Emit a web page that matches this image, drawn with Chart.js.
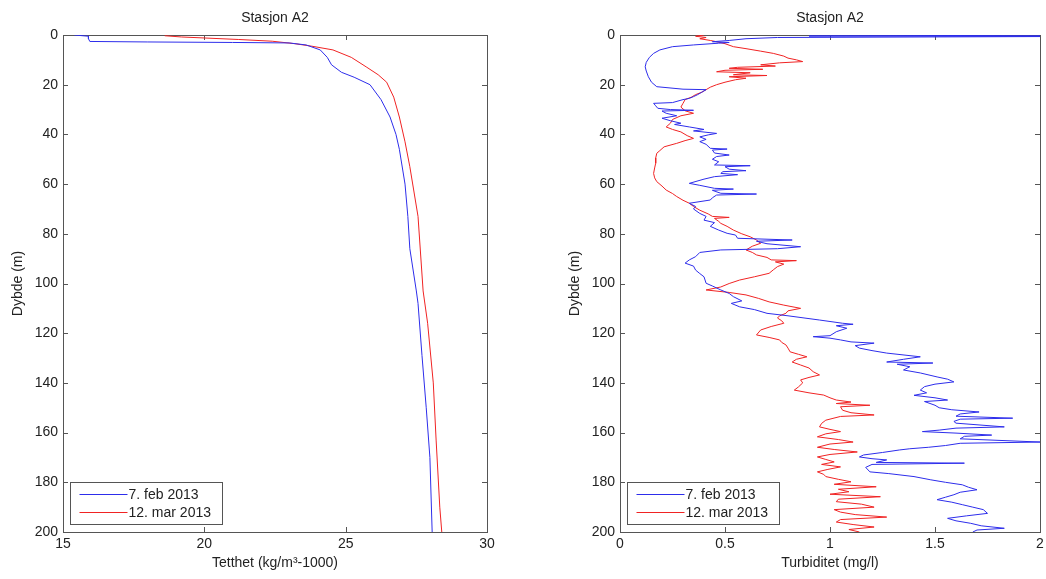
<!DOCTYPE html>
<html>
<head>
<meta charset="utf-8">
<script src="https://cdn.jsdelivr.net/npm/chart.js@4"></script>
<style>
  body { margin: 0; background: #fff; }
  canvas { position: absolute; top: 0; }
  #left { left: 0; }
  #right { left: 520px; }
</style>
</head>
<body>
<canvas id="left" width="520" height="579"></canvas>
<canvas id="right" width="526" height="579"></canvas>
<script>
/* global Chart */

var seriesNames = ['7. feb 2013', '12. mar 2013']
var blue = 'rgb(45,45,235)'
var red = 'rgb(240,35,35)'

// density profiles (kg/m^3-1000) vs depth (m)
var densFebDepth = [0, 0.5, 1.5, 2.6, 2.8, 3.0, 3.2, 4, 6, 9, 12, 15, 17, 20, 26, 33, 40, 46, 60, 73, 86, 103, 108, 129, 150, 170, 200]
var densFebVal = [15.4, 15.9, 15.9, 15.95, 18.0, 21.0, 23.0, 23.6, 24.1, 24.35, 24.5, 24.85, 25.3, 25.86, 26.25, 26.57, 26.78, 26.9, 27.1, 27.2, 27.27, 27.5, 27.56, 27.7, 27.85, 27.98, 28.06]
var densMarDepth = [0.3, 0.8, 1.2, 1.8, 2.5, 3.5, 4.5, 6, 9, 13, 16, 19, 25, 33, 43, 53, 73, 103, 116, 140, 163, 190, 200]
var densMarVal = [18.6, 19.2, 20.0, 21.2, 22.4, 23.2, 23.8, 24.55, 25.2, 25.75, 26.15, 26.45, 26.7, 26.9, 27.1, 27.27, 27.56, 27.74, 27.9, 28.1, 28.2, 28.33, 28.4]

// turbidity profiles (mg/l) vs depth (m)
var turbFebDepth = [0, 0.4, 0.6, 1.0, 1.5, 2.2, 2.7, 3.0, 3.3, 4.0, 4.7, 6, 7.4, 9, 11, 12.8, 14.5, 16.8, 19, 20.8, 21.8, 22, 23, 24, 24.8, 25.5, 26, 27.2, 27.5, 28.5, 29.5, 30, 30.3, 30.6, 31.5, 32.5, 33.5, 34.5, 35.5, 36, 37, 38, 38.6, 39.6, 40.2, 41, 42, 42.9, 44, 45.6, 45.9, 46.3, 47.5, 48.3, 48.9, 50, 51, 52.3, 52.6, 53, 54, 54.6, 55, 55.7, 56.2, 57, 58, 59.7, 60.5, 61.7, 62, 62.5, 63.7, 64, 64.4, 65.5, 66.4, 67.7, 69, 70, 71.8, 73, 74.5, 75.5, 77, 78.5, 79.8, 80.5, 81.8, 82.5, 83, 84, 85.2, 86, 86.5, 87.5, 89.2, 90.5, 91.8, 93, 94.6, 96, 97.3, 99.9, 101, 102.6, 104, 105.3, 107, 108, 109.4, 110.5, 112, 113, 114.7, 116, 116.4, 117, 118, 119.4, 121, 121.4, 122, 122.7, 123.5, 124, 125, 126, 127, 128, 129.5, 130.5, 131.6, 132, 132.5, 133.5, 134.8, 136, 137.6, 138.5, 139.6, 140.5, 141.5, 142.9, 144, 145, 146, 146.9, 147.5, 149, 150, 150.8, 151.7, 152.5, 153.4, 154.2, 154.6, 155.5, 156.2, 157.7, 158.2, 159, 159.6, 160.2, 161, 161.5, 162.5, 163.8, 164.3, 165.2, 165.9, 166.5, 167, 168, 169, 169.8, 170.5, 171, 172, 172.3, 172.8, 174, 175.8, 176.5, 177.7, 179, 180, 181, 182, 183, 184, 185, 186, 187, 188, 189, 190, 191, 192.5, 193.5, 194.5, 195.5, 196.5, 197.5, 198.5, 199.2, 200]
var turbFebVal = [2.3, 0.9, 2.1, 0.75, 0.6, 0.52, 0.44, 0.52, 0.47, 0.35, 0.25, 0.19, 0.16, 0.14, 0.125, 0.12, 0.125, 0.135, 0.15, 0.175, 0.30, 0.41, 0.39, 0.37, 0.35, 0.33, 0.30, 0.25, 0.16, 0.17, 0.18, 0.24, 0.35, 0.2, 0.22, 0.27, 0.2, 0.24, 0.29, 0.26, 0.33, 0.4, 0.35, 0.46, 0.42, 0.38, 0.41, 0.38, 0.41, 0.43, 0.51, 0.44, 0.45, 0.52, 0.46, 0.44, 0.47, 0.45, 0.62, 0.5, 0.52, 0.60, 0.49, 0.48, 0.56, 0.45, 0.4, 0.33, 0.38, 0.45, 0.54, 0.44, 0.48, 0.65, 0.46, 0.44, 0.43, 0.33, 0.36, 0.35, 0.38, 0.41, 0.4, 0.45, 0.43, 0.47, 0.51, 0.55, 0.56, 0.82, 0.65, 0.7, 0.86, 0.75, 0.48, 0.38, 0.36, 0.33, 0.31, 0.35, 0.36, 0.38, 0.40, 0.41, 0.44, 0.48, 0.52, 0.54, 0.58, 0.53, 0.57, 0.64, 0.70, 0.8, 0.95, 1.06, 1.11, 1.03, 1.08, 1.03, 1.0, 0.92, 1.0, 1.05, 1.1, 1.21, 1.12, 1.14, 1.2, 1.27, 1.43, 1.35, 1.27, 1.49, 1.32, 1.38, 1.35, 1.43, 1.51, 1.56, 1.59, 1.5, 1.45, 1.43, 1.46, 1.40, 1.5, 1.56, 1.45, 1.5, 1.52, 1.58, 1.71, 1.62, 1.60, 1.87, 1.62, 1.59, 1.60, 1.83, 1.6, 1.52, 1.44, 1.6, 1.77, 1.64, 1.62, 2.0, 1.62, 1.55, 1.47, 1.38, 1.33, 1.25, 1.16, 1.14, 1.2, 1.27, 1.22, 1.64, 1.2, 1.17, 1.19, 1.28, 1.40, 1.48, 1.55, 1.63, 1.66, 1.70, 1.62, 1.59, 1.55, 1.51, 1.58, 1.63, 1.68, 1.73, 1.75, 1.65, 1.56, 1.6, 1.67, 1.72, 1.83, 1.70, 1.68]
var turbMarDepth = [0, 0.5, 1, 1.5, 2.2, 2.7, 3.5, 4.7, 5.5, 6.5, 7.4, 8.5, 9.3, 10, 10.7, 11.2, 12, 12.5, 13, 13.4, 13.8, 14.2, 14.8, 15.2, 16, 16.3, 16.8, 17.4, 18, 19, 20, 21, 22, 23, 24, 25, 26, 27.5, 29, 30.5, 31.5, 32.5, 34, 35.5, 37, 38, 39, 40.5, 41.6, 42.5, 43.6, 45, 46.5, 47.6, 49.5, 51.6, 53.5, 55.7, 57.5, 59, 60.8, 62.4, 63.8, 65, 66.5, 67.7, 69, 70.5, 72, 73, 73.4, 73.8, 75, 75.8, 77, 78.5, 80, 81.2, 82.5, 83.8, 85, 86.5, 87.5, 88.5, 89.5, 90.5, 90.8, 91.3, 92.2, 93.2, 94.5, 95.9, 97.3, 98.6, 100, 101.4, 102.6, 103.6, 104.6, 106, 107.4, 108.7, 110, 111, 112, 113, 113.9, 115, 116, 117.3, 118.7, 120.7, 121.7, 122.7, 123.7, 124.7, 126, 127.5, 128.5, 129.5, 130.5, 131.6, 132.8, 134, 135.5, 136.8, 137.8, 138.8, 140, 141.6, 142.9, 144, 144.9, 146, 146.9, 147.7, 148.3, 149, 149.6, 151, 152, 152.9, 153.5, 155, 156.3, 157.7, 158.7, 159.6, 160.5, 161.7, 162.8, 163.8, 164.6, 165.9, 166.8, 167.8, 168.8, 169.8, 170.8, 171.8, 172.8, 173.8, 174.8, 175.8, 176.8, 177.7, 178.8, 179.8, 180.8, 181.8, 182.8, 183.8, 184.8, 185.8, 186.8, 187.8, 188.8, 190, 191, 192, 193, 194, 195, 196, 197, 198, 199, 200]
var turbMarVal = [0.40, 0.36, 0.41, 0.38, 0.43, 0.46, 0.50, 0.54, 0.6, 0.67, 0.73, 0.78, 0.8, 0.84, 0.87, 0.76, 0.67, 0.74, 0.56, 0.52, 0.68, 0.5, 0.46, 0.62, 0.54, 0.70, 0.52, 0.6, 0.55, 0.50, 0.46, 0.43, 0.41, 0.39, 0.36, 0.34, 0.31, 0.30, 0.29, 0.31, 0.35, 0.29, 0.25, 0.24, 0.22, 0.25, 0.29, 0.32, 0.35, 0.31, 0.27, 0.21, 0.19, 0.175, 0.17, 0.17, 0.165, 0.16, 0.165, 0.175, 0.2, 0.22, 0.25, 0.27, 0.3, 0.33, 0.35, 0.38, 0.42, 0.44, 0.52, 0.45, 0.47, 0.48, 0.51, 0.54, 0.58, 0.62, 0.65, 0.67, 0.63, 0.60, 0.63, 0.65, 0.70, 0.72, 0.84, 0.74, 0.78, 0.75, 0.73, 0.71, 0.64, 0.57, 0.52, 0.48, 0.41, 0.52, 0.60, 0.66, 0.71, 0.78, 0.86, 0.8, 0.79, 0.76, 0.75, 0.77, 0.78, 0.72, 0.67, 0.65, 0.71, 0.76, 0.77, 0.79, 0.8, 0.81, 0.85, 0.89, 0.84, 0.82, 0.86, 0.90, 0.92, 0.95, 0.9, 0.86, 0.87, 0.85, 0.83, 0.9, 0.97, 1.0, 1.03, 1.1, 1.03, 1.19, 1.05, 1.06, 1.1, 1.21, 1.05, 0.98, 0.96, 0.95, 1.0, 1.05, 0.98, 0.94, 1.04, 1.11, 1.0, 0.94, 1.02, 1.13, 1.0, 0.94, 0.98, 1.02, 0.96, 1.05, 0.99, 0.94, 0.97, 0.98, 1.04, 1.10, 1.02, 1.22, 1.04, 1.09, 1.0, 1.24, 1.04, 1.03, 1.15, 1.21, 1.02, 1.05, 1.12, 1.27, 1.05, 1.03, 1.11, 1.21, 1.09, 1.14]

var densTicks = [15, 20, 25, 30]
var turbTicks = [0, 0.5, 1, 1.5, 2]
var depthTicks = [0, 20, 40, 60, 80, 100, 120, 140, 160, 180, 200]

Chart.defaults.font.family = '"Liberation Sans", Arial, sans-serif'
Chart.defaults.font.size = 14
Chart.defaults.color = '#222'

function toPoints (depth, val) {
  return depth.map((d, i) => ({ x: val[i], y: d }))
}

// matlab style box, inward ticks, title and legend inside the axes
var matlabFrame = {
  id: 'matlabFrame',
  beforeDatasetsDraw (chart) {
    var ctx = chart.ctx
    var a = chart.chartArea
    ctx.save()
    ctx.strokeStyle = '#555'
    ctx.lineWidth = 1
    ctx.strokeRect(Math.round(a.left) + 0.5, Math.round(a.top) + 0.5, Math.round(a.width), Math.round(a.height))
    ctx.beginPath()
    chart.scales.x.ticks.forEach(t => {
      var px = Math.round(chart.scales.x.getPixelForValue(t.value)) + 0.5
      ctx.moveTo(px, a.bottom); ctx.lineTo(px, a.bottom - 5)
      ctx.moveTo(px, a.top); ctx.lineTo(px, a.top + 5)
    })
    chart.scales.y.ticks.forEach(t => {
      var py = Math.round(chart.scales.y.getPixelForValue(t.value)) + 0.5
      ctx.moveTo(a.left, py); ctx.lineTo(a.left + 5, py)
      ctx.moveTo(a.right, py); ctx.lineTo(a.right - 5, py)
    })
    ctx.stroke()
    ctx.restore()
  },
  afterDraw (chart, args, opts) {
    var ctx = chart.ctx
    var a = chart.chartArea
    ctx.save()
    ctx.fillStyle = '#222'
    ctx.font = '14px "Liberation Sans", Arial, sans-serif'
    ctx.textAlign = 'center'
    ctx.textBaseline = 'middle'
    ctx.fillText(opts.title, (a.left + a.right) / 2, 18)
    // legend box
    var bx = Math.round(a.left) + 7.5
    var by = 482.5
    ctx.fillStyle = '#fff'
    ctx.fillRect(bx, by, 152, 42)
    ctx.strokeStyle = '#555'
    ctx.strokeRect(bx, by, 152, 42)
    ctx.textAlign = 'left'
    chart.data.datasets.forEach((ds, i) => {
      var ly = by + 12 + i * 18
      ctx.strokeStyle = ds.borderColor
      ctx.beginPath()
      ctx.moveTo(bx + 9, ly); ctx.lineTo(bx + 57, ly)
      ctx.stroke()
      ctx.fillStyle = '#222'
      ctx.fillText(ds.label, bx + 58, ly + 1)
    })
    ctx.restore()
  }
}

function makeChart (id, febDepth, febVal, marDepth, marVal, xMin, xMax, xTicks, xTitle, yWidth, yTitlePad, padRight) {
  return new Chart(document.getElementById(id), {
    type: 'scatter',
    data: {
      datasets: [
        { label: seriesNames[0], data: toPoints(febDepth, febVal), showLine: true, borderColor: blue, borderWidth: 1, pointRadius: 0 },
        { label: seriesNames[1], data: toPoints(marDepth, marVal), showLine: true, borderColor: red, borderWidth: 1, pointRadius: 0 }
      ]
    },
    options: {
      responsive: false,
      animation: false,
      events: [],
      layout: { padding: { top: 35, right: padRight, bottom: 0, left: 0 } },
      plugins: {
        legend: { display: false },
        tooltip: { enabled: false },
        matlabFrame: { title: 'Stasjon A2' }
      },
      scales: {
        x: {
          type: 'linear',
          min: xMin,
          max: xMax,
          afterBuildTicks: (s) => { s.ticks = xTicks.map(v => ({ value: v })) },
          ticks: { padding: 4, callback: (v) => String(v) },
          grid: { display: false, drawTicks: false },
          border: { display: false },
          title: { display: true, text: xTitle, padding: { top: 0, bottom: 7.6 } },
          afterFit: (s) => { s.height = 47; s.paddingLeft = 0; s.paddingRight = 0 }
        },
        y: {
          type: 'linear',
          reverse: true,
          min: 0,
          max: 200,
          afterBuildTicks: (s) => { s.ticks = depthTicks.map(v => ({ value: v })) },
          ticks: { padding: 5, callback: (v) => String(v) },
          grid: { display: false, drawTicks: false },
          border: { display: false },
          title: { display: true, text: 'Dybde (m)', padding: { top: yTitlePad, bottom: 0 } },
          afterFit: (s) => { s.width = yWidth; s.paddingTop = 0; s.paddingBottom = 0 }
        }
      }
    },
    plugins: [matlabFrame]
  })
}

makeChart('left', densFebDepth, densFebVal, densMarDepth, densMarVal, 15, 30, densTicks, 'Tetthet (kg/m³-1000)', 63, 9.6, 33)
makeChart('right', turbFebDepth, turbFebVal, turbMarDepth, turbMarVal, 0, 2, turbTicks, 'Turbiditet (mg/l)', 100, 46.6, 6)
</script>
</body>
</html>
